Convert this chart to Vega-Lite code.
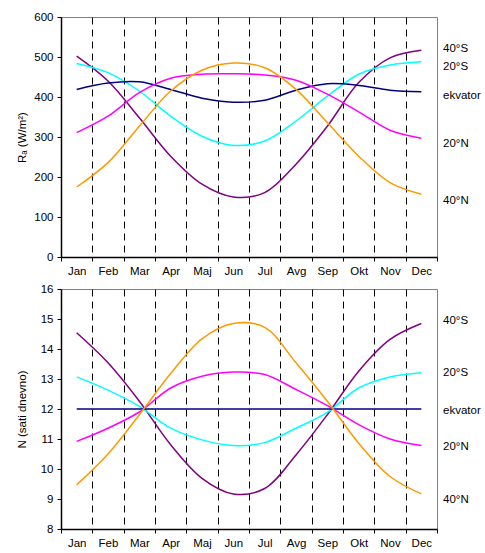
{
  "$schema": "https://vega.github.io/schema/vega-lite/v6.json",
  "padding": {"left": 15, "top": 10, "right": 0, "bottom": 0},
  "spacing": 5,
  "config": {
    "font": "Liberation Sans",
    "view": {"stroke": "#808080", "strokeWidth": 1},
    "axis": {
      "labelFont": "Liberation Sans", "labelFontSize": 11.5, "labelColor": "#000",
      "titleFont": "Liberation Sans", "titleFontSize": 11.5, "titleFontWeight": "normal", "titleColor": "#000",
      "domainColor": "#000", "domainWidth": 1.5, "tickColor": "#000", "tickSize": 4, "labelPadding": 4
    }
  },
  "datasets": {
    "ra": [
      {"m": 1, "s40": 502, "s20": 484, "eq": 419, "n20": 311, "n40": 175},
      {"m": 2, "s40": 440, "s20": 461, "eq": 435, "n20": 352, "n40": 236},
      {"m": 3, "s40": 348, "s20": 415, "eq": 438, "n20": 411, "n40": 327},
      {"m": 4, "s40": 252, "s20": 352, "eq": 419, "n20": 447, "n40": 415},
      {"m": 5, "s40": 182, "s20": 302, "eq": 397, "n20": 457, "n40": 467},
      {"m": 6, "s40": 150, "s20": 279, "eq": 387, "n20": 458, "n40": 485},
      {"m": 7, "s40": 161, "s20": 290, "eq": 392, "n20": 455, "n40": 473},
      {"m": 8, "s40": 232, "s20": 340, "eq": 417, "n20": 442, "n40": 419},
      {"m": 9, "s40": 327, "s20": 402, "eq": 433, "n20": 407, "n40": 336},
      {"m": 10, "s40": 436, "s20": 457, "eq": 429, "n20": 363, "n40": 252},
      {"m": 11, "s40": 498, "s20": 480, "eq": 417, "n20": 317, "n40": 186},
      {"m": 12, "s40": 517, "s20": 488, "eq": 413, "n20": 297, "n40": 157}
    ],
    "nd": [
      {"m": 1, "s40": 14.54, "s20": 13.07, "eq": 12, "n20": 10.92, "n40": 9.47},
      {"m": 2, "s40": 13.54, "s20": 12.63, "eq": 12, "n20": 11.36, "n40": 10.5},
      {"m": 3, "s40": 12.26, "s20": 12.09, "eq": 12, "n20": 11.9, "n40": 11.81},
      {"m": 4, "s40": 10.81, "s20": 11.36, "eq": 12, "n20": 12.7, "n40": 13.18},
      {"m": 5, "s40": 9.69, "s20": 10.97, "eq": 12, "n20": 13.09, "n40": 14.34},
      {"m": 6, "s40": 9.17, "s20": 10.78, "eq": 12, "n20": 13.23, "n40": 14.85},
      {"m": 7, "s40": 9.35, "s20": 10.88, "eq": 12, "n20": 13.15, "n40": 14.72},
      {"m": 8, "s40": 10.47, "s20": 11.36, "eq": 12, "n20": 12.65, "n40": 13.54},
      {"m": 9, "s40": 11.81, "s20": 11.89, "eq": 12, "n20": 12.11, "n40": 12.26},
      {"m": 10, "s40": 13.26, "s20": 12.7, "eq": 12, "n20": 11.48, "n40": 10.86},
      {"m": 11, "s40": 14.32, "s20": 13.07, "eq": 12, "n20": 11.0, "n40": 9.75},
      {"m": 12, "s40": 14.85, "s20": 13.21, "eq": 12, "n20": 10.78, "n40": 9.17}
    ],
    "ralab": [
      {"lab": "40°S", "v": 520},
      {"lab": "20°S", "v": 475},
      {"lab": "ekvator", "v": 402},
      {"lab": "20°N", "v": 282},
      {"lab": "40°N", "v": 140}
    ],
    "ndlab": [
      {"lab": "40°S", "v": 14.93},
      {"lab": "20°S", "v": 13.19},
      {"lab": "ekvator", "v": 11.95},
      {"lab": "20°N", "v": 10.72},
      {"lab": "40°N", "v": 8.98}
    ]
  },
  "vconcat": [
    {
      "width": 376,
      "height": 240,
      "layer": [
        {
          "data": {"name": "ra"},
          "transform": [{"fold": ["s40", "s20", "eq", "n20", "n40"], "as": ["lat", "v"]}],
          "mark": {"type": "line", "interpolate": "catmull-rom", "strokeWidth": 1.5},
          "encoding": {
            "x": {
              "field": "m", "type": "quantitative",
              "scale": {"domain": [0.5, 12.5], "nice": false, "zero": false},
              "axis": {
                "title": null,
                "tickCount": 40,
                "values": [0.5, 1, 1.5, 2, 2.5, 3, 3.5, 4, 4.5, 5, 5.5, 6, 6.5, 7, 7.5, 8, 8.5, 9, 9.5, 10, 10.5, 11, 11.5, 12, 12.5],
                "labelExpr": "datum.value % 1 === 0 ? ['Jan','Feb','Mar','Apr','Maj','Jun','Jul','Avg','Sep','Okt','Nov','Dec'][datum.value - 1] : ''",
                "labelOverlap": false, "labelFlush": false, "labelBound": false,
                "tickOpacity": {"condition": {"test": "datum.value % 1 !== 0", "value": 1}, "value": 0},
                "grid": true, "gridColor": "#000", "gridDash": [7, 5], "gridWidth": 1,
                "gridOpacity": {"condition": {"test": "datum.value % 1 !== 0 && datum.value > 1 && datum.value < 12", "value": 1}, "value": 0}
              }
            },
            "y": {
              "field": "v", "type": "quantitative",
              "scale": {"domain": [0, 600], "nice": false},
              "axis": {"tickCount": 20, "values": [0, 100, 200, 300, 400, 500, 600], "format": "d", "labelOverlap": false, "grid": false, "title": "Rₐ (W/m²)", "titlePadding": 6}
            },
            "color": {
              "field": "lat", "type": "nominal",
              "scale": {"domain": ["s40", "s20", "eq", "n20", "n40"], "range": ["#800080", "#00FFFF", "#000080", "#FF00FF", "#FF9900"]},
              "legend": null
            }
          }
        },
        {
          "data": {"name": "ralab"},
          "mark": {"type": "text", "align": "left", "baseline": "middle", "dx": 6, "fontSize": 11.5, "font": "Liberation Sans", "color": "#000"},
          "encoding": {
            "x": {"datum": 12.5, "type": "quantitative"},
            "y": {"field": "v", "type": "quantitative"},
            "text": {"field": "lab"}
          }
        }
      ]
    },
    {
      "width": 376,
      "height": 240,
      "layer": [
        {
          "data": {"name": "nd"},
          "transform": [{"fold": ["s40", "s20", "eq", "n20", "n40"], "as": ["lat", "v"]}],
          "mark": {"type": "line", "interpolate": "catmull-rom", "strokeWidth": 1.5},
          "encoding": {
            "x": {
              "field": "m", "type": "quantitative",
              "scale": {"domain": [0.5, 12.5], "nice": false, "zero": false},
              "axis": {
                "title": null,
                "tickCount": 40,
                "values": [0.5, 1, 1.5, 2, 2.5, 3, 3.5, 4, 4.5, 5, 5.5, 6, 6.5, 7, 7.5, 8, 8.5, 9, 9.5, 10, 10.5, 11, 11.5, 12, 12.5],
                "labelExpr": "datum.value % 1 === 0 ? ['Jan','Feb','Mar','Apr','Maj','Jun','Jul','Avg','Sep','Okt','Nov','Dec'][datum.value - 1] : ''",
                "labelOverlap": false, "labelFlush": false, "labelBound": false,
                "tickOpacity": {"condition": {"test": "datum.value % 1 !== 0", "value": 1}, "value": 0},
                "grid": true, "gridColor": "#000", "gridDash": [7, 5], "gridWidth": 1,
                "gridOpacity": {"condition": {"test": "datum.value % 1 !== 0 && datum.value > 1 && datum.value < 12", "value": 1}, "value": 0}
              }
            },
            "y": {
              "field": "v", "type": "quantitative",
              "scale": {"domain": [8, 16], "nice": false, "zero": false},
              "axis": {"tickCount": 20, "values": [8, 9, 10, 11, 12, 13, 14, 15, 16], "format": "d", "labelOverlap": false, "grid": false, "title": "N (sati dnevno)", "titlePadding": 13}
            },
            "color": {
              "field": "lat", "type": "nominal",
              "scale": {"domain": ["s40", "s20", "eq", "n20", "n40"], "range": ["#800080", "#00FFFF", "#333399", "#FF00FF", "#FF9900"]},
              "legend": null
            }
          }
        },
        {
          "data": {"name": "ndlab"},
          "mark": {"type": "text", "align": "left", "baseline": "middle", "dx": 6, "fontSize": 11.5, "font": "Liberation Sans", "color": "#000"},
          "encoding": {
            "x": {"datum": 12.5, "type": "quantitative"},
            "y": {"field": "v", "type": "quantitative"},
            "text": {"field": "lab"}
          }
        }
      ]
    }
  ]
}
